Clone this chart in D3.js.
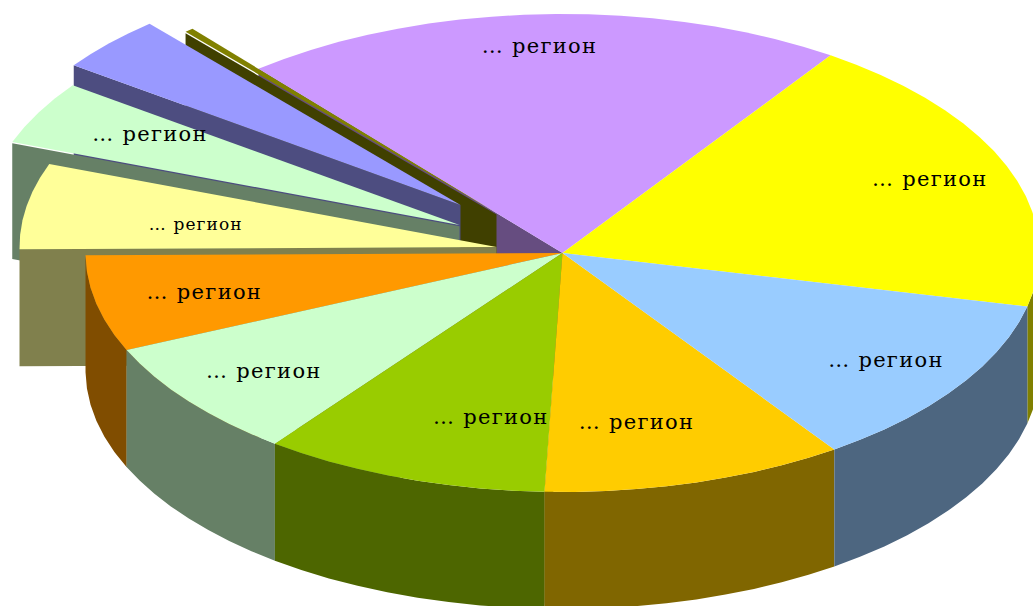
<!DOCTYPE html>
<html>
<head>
<meta charset="utf-8">
<script src="https://cdn.jsdelivr.net/npm/d3@7/dist/d3.min.js"></script>
<style>
html,body{margin:0;padding:0;background:#fff;overflow:hidden}
svg{display:block}
text{font-family:"DejaVu Serif",serif;fill:#000}
</style>
</head>
<body>
<svg id="chart" width="1033" height="606"></svg>
<script>
// data (share of the whole, %)
const categories = ["… регион","… регион","… регион","… регион","… регион","… регион","… регион","… регион","… регион","",""];
const values = [20.5,19.1,11.75,10.25,9.7,8.05,6.5,5.8,4.3,3.75,0.3];

// styling
const topColors  = ["#cc99ff","#ffff00","#99ccff","#ffcc00","#99cc00","#ccffcc","#ff9900","#ffff99","#ccffcc","#9999ff","#808000"];
const wallColors = ["#664d80","#808000","#4d6680","#806600","#4d6600","#668066","#804d00","#80804d","#668066","#4d4d80","#404000"];
// layout
const shiftX = [0,0,0,0,0,0,0,-66,-103,-102,-66];
const shiftY = [0,0,0,0,0,0,0,-6,-28,-48,-40];
const wallGap = [0,0,0,0,0,0,0,0,1.2,0,1.5];
const labelRadius = [.863,.828,.815,.728,.706,.80,.769,.637,.75,0,0];
const labelAngle = [356.8,68.4,123.7,167.7,192.3,231.5,257.5,278.3,300.1,0,0];
const labelSize = [21,21,21,21,21,21,21,17,21,0,0];
const labelSpacing = [1.3,1.3,1.3,1.3,1.3,1.3,1.3,1.1,1.3,0,0];
const labelLift = 1;
const paintOrder = [0,1,10,9,8,7,6,5,4,3,2];

const cx = 562.5, cy = 253, rx = 477, ry = 239, depth = 117;
const x = d3.scaleLinear().domain([-1,1]).range([cx-rx,cx+rx]);
const y = d3.scaleLinear().domain([-1,1]).range([cy-ry,cy+ry]);
const svg = d3.select("#chart");
const line = d3.line();
const rad = Math.PI/180;

const arcs = d3.pie().sort(null).value(d=>d)
  .startAngle(-39.6*rad).endAngle(320.4*rad)(values);

function pt(a, i, r=1, dz=0){
  return [x(r*Math.sin(a))+shiftX[i], y(-r*Math.cos(a))+shiftY[i]+dz];
}
function arcPts(a0,a1,i,dz=0){
  const n = Math.max(1,Math.ceil((a1-a0)/(4*rad)));
  return d3.range(n+1).map(k=>pt(a0+(a1-a0)*k/n,i,1,dz));
}

paintOrder.forEach(i=>{
  const d = arcs[i], a0 = d.startAngle, a1 = d.endAngle;
  const g = wallGap[i];
  // side face along the start radius
  if (Math.sin(a0) < 0) {
    svg.append("path").attr("fill",wallColors[i]).attr("d",line([
      pt(a0,i,0,g),pt(a0,i,1,g),pt(a0,i,1,depth),pt(a0,i,0,depth)
    ])+"Z");
  }
  // outer wall on the front half
  const lo = Math.max(a0,90*rad), hi = Math.min(a1,270*rad);
  if (hi > lo) {
    const upper = arcPts(lo,hi,i), lower = arcPts(lo,hi,i,depth).reverse();
    svg.append("path").attr("fill",wallColors[i]).attr("d",line(upper.concat(lower))+"Z");
  }
  // top face
  svg.append("path").attr("fill",topColors[i])
    .attr("d",line([pt(a0,i,0)].concat(arcPts(a0,a1,i)))+"Z");
});

categories.forEach((c,i)=>{
  if(!c) return;
  const p = pt(labelAngle[i]*rad,i,labelRadius[i]);
  svg.append("text").attr("x",p[0]).attr("y",p[1]-labelLift)
    .attr("text-anchor","middle").attr("dominant-baseline","central")
    .attr("font-size",labelSize[i]).attr("letter-spacing",labelSpacing[i]).text(c);
});
</script>
</body>
</html>
